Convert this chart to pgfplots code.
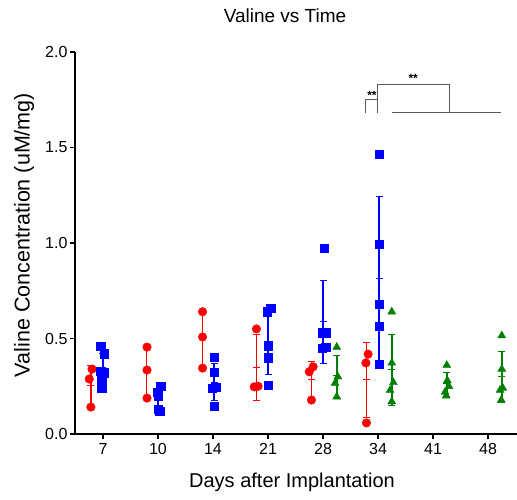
\documentclass[border=0pt]{standalone}
\usepackage{pgfplots}
\pgfplotsset{compat=1.18}
\usepackage{fontspec}
\setmainfont{Liberation Sans}
\definecolor{pr}{RGB}{255,0,0}
\definecolor{pb}{RGB}{0,0,255}
\definecolor{pg}{RGB}{0,128,0}
\definecolor{br}{RGB}{90,90,90}
\begin{document}
\begin{tikzpicture}
\useasboundingbox (-75pt,-65pt) rectangle (442pt,434pt);
\begin{axis}[
 at={(0pt,0pt)}, anchor=south west, scale only axis, width=442pt, height=382pt,
 xmin=-0.509, xmax=7.527, ymin=0, ymax=2,
 axis x line=bottom, axis y line=left, axis line style={-, line width=1.3pt},
 xtick={0,...,7}, xticklabels={7,10,14,21,28,34,41,48},
 ytick={0,0.5,1,1.5,2},
 yticklabel style={xshift=1pt, /pgf/number format/.cd, fixed, fixed zerofill, precision=1},
 tick align=outside, major tick length=5pt, tick style={line width=1.2pt, black},
 ticklabel style={font=\fontsize{16}{16}\selectfont},
 xticklabel style={yshift=-1pt},
 /pgf/number format/assume math mode=true,
 clip=false,
 error bars/y dir=both, error bars/y explicit,
 error bars/error bar style={line width=1.6pt},
 ]
% mean +- SD
\addplot[pr, only marks, mark=-, mark size=3.5pt, line width=1pt] coordinates {
 (-0.22,0.256) +- (0,0.103)
 (0.79,0.326) +- (0,0.134)
 (1.81,0.498) +- (0,0.148)
 (2.79,0.349) +- (0,0.174)
 (3.79,0.285) +- (0,0.094)
 (4.79,0.283) +- (0,0.196)
};
\addplot[pb, only marks, mark=-, mark size=3.5pt, line width=1pt] coordinates {
 (0.0,0.342) +- (0,0.083)
 (1.0,0.184) +- (0,0.057)
 (2.02,0.272) +- (0,0.0965)
 (3.0,0.484) +- (0,0.169)
 (4.0,0.588) +- (0,0.219)
 (5.02,0.814) +- (0,0.4296)
};
\addplot[pg, only marks, mark=-, mark size=3.5pt, line width=1pt] coordinates {
 (4.25,0.304) +- (0,0.1096)
 (5.25,0.336) +- (0,0.185)
 (6.25,0.262) +- (0,0.0625)
 (7.25,0.3006) +- (0,0.133)
};
% individual points
\addplot[pr, only marks, mark=*, mark size=4.3pt, error bars/y dir=none] coordinates {
 (-0.25,0.288) (-0.20,0.34) (-0.22,0.141)
 (0.80,0.455) (0.80,0.335) (0.80,0.188)
 (1.81,0.64) (1.81,0.508) (1.81,0.345)
 (2.79,0.55) (2.75,0.247) (2.82,0.25)
 (3.82,0.352) (3.75,0.326) (3.79,0.178)
 (4.78,0.372) (4.82,0.418) (4.79,0.058)
};
\addplot[pb, only marks, mark=square*, mark size=4.2pt, error bars/y dir=none] coordinates {
 (-0.04,0.46) (0.02,0.42) (-0.04,0.33) (0.02,0.32) (-0.02,0.28) (-0.02,0.24)
 (1.05,0.25) (0.99,0.22) (1.0,0.20) (1.0,0.13) (1.03,0.12)
 (2.02,0.403) (2.02,0.325) (1.98,0.24) (2.05,0.246) (2.02,0.147)
 (2.98,0.64) (3.05,0.66) (3.0,0.462) (3.0,0.40) (3.0,0.256)
 (4.02,0.974) (3.98,0.53) (4.05,0.53) (3.98,0.45) (4.05,0.455)
 (5.02,1.466) (5.02,0.993) (5.02,0.679) (5.02,0.565) (5.02,0.366)
};
\addplot[pg, only marks, mark=triangle*, mark size=4.6pt, error bars/y dir=none] coordinates {
 (4.25,0.455) (4.27,0.30) (4.22,0.267) (4.25,0.195)
 (5.25,0.64) (5.25,0.372) (5.28,0.27) (5.22,0.23) (5.25,0.17)
 (6.25,0.36) (6.26,0.28) (6.29,0.25) (6.22,0.22) (6.24,0.20)
 (7.25,0.515) (7.25,0.34) (7.27,0.24) (7.22,0.23) (7.24,0.178)
};
% significance brackets
\addplot[br, line width=0.9pt, error bars/y dir=none] coordinates {(4.78,1.682) (4.78,1.752) (4.995,1.752)};
\addplot[br, line width=0.9pt, error bars/y dir=none] coordinates {(4.995,1.682) (4.995,1.832) (6.29,1.832) (6.29,1.682)};
\addplot[br, line width=0.9pt, error bars/y dir=none] coordinates {(5.25,1.682) (7.24,1.682)};
\node[font=\fontsize{12}{12}\selectfont\bfseries] at (axis cs:4.89,1.775) {**};
\node[font=\fontsize{12}{12}\selectfont\bfseries] at (axis cs:5.64,1.862) {**};
\end{axis}
\node[font=\fontsize{19}{19}\selectfont] at (210pt,418pt) {Valine vs Time};
\node[font=\fontsize{20}{20}\selectfont] at (217pt,-48pt) {Days after Implantation};
\node[rotate=90, font=\fontsize{21.5}{21.5}\selectfont] at (-51pt,199pt) {Valine Concentration (uM/mg)};
\end{tikzpicture}
\end{document}
